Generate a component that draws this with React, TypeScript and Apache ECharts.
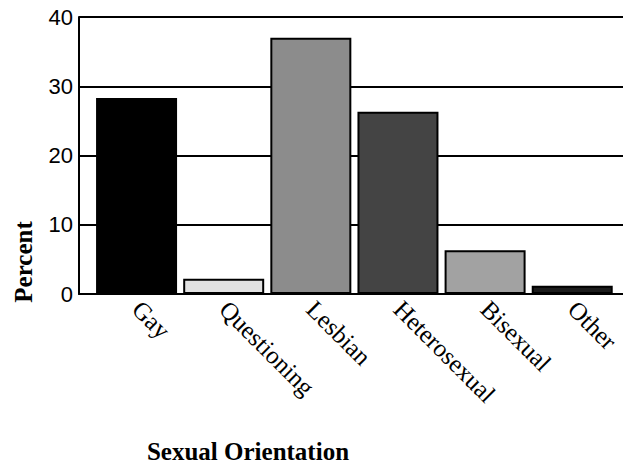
import React, { useEffect, useRef } from "react";
import * as echarts from "echarts";

const categories = ["Gay", "Questioning", "Lesbian", "Heterosexual", "Bisexual", "Other"];
const percents = [28.3, 2.2, 37.0, 26.3, 6.3, 1.2];
const barColors = ["#000000", "#e2e2e2", "#8c8c8c", "#444444", "#a2a2a2", "#1c1c1c"];
const yTicks = [0, 10, 20, 30, 40];

export default function App() {
  const ref = useRef<HTMLDivElement>(null);
  useEffect(() => {
    if (!ref.current) return;
    const chart = echarts.init(ref.current, undefined, { renderer: "svg" });
    chart.setOption({
      animation: false,
      backgroundColor: "#ffffff",
      grid: [
        { left: 79, right: 0, top: 17, bottom: 170 },
        { left: 93, right: 2, top: 17, bottom: 170 },
      ],
      xAxis: [
        {
          gridIndex: 0,
          type: "value",
          min: 0,
          max: 1,
          axisLine: { show: true, lineStyle: { color: "#000", width: 2 } },
          axisTick: { show: false },
          axisLabel: { show: false },
          splitLine: { show: false },
        },
        {
          gridIndex: 1,
          type: "category",
          data: categories,
          axisLine: { show: false },
          axisTick: { show: false },
          axisLabel: {
            rotate: -45,
            margin: 11,
            color: "#000",
            fontFamily: "Liberation Serif",
            fontSize: 25,
            interval: 0,
          },
        },
      ],
      yAxis: [
        {
          gridIndex: 0,
          type: "value",
          min: 0,
          max: 40,
          interval: 10,
          axisLine: { show: true, lineStyle: { color: "#000", width: 2 } },
          axisTick: { show: false },
          axisLabel: {
            color: "#000",
            fontFamily: "Liberation Sans",
            fontSize: 22,
            margin: 6,
            formatter: (v: number) => (yTicks.includes(v) ? String(v) : ""),
          },
          splitLine: { show: true, lineStyle: { color: "#000", width: 2 } },
        },
        {
          gridIndex: 1,
          type: "value",
          min: 0,
          max: 40,
          show: false,
          splitLine: { show: false },
        },
      ],
      series: [
        {
          type: "bar",
          xAxisIndex: 1,
          yAxisIndex: 1,
          barWidth: 81,
          data: percents.map((v, i) => ({
            value: v,
            itemStyle: { color: barColors[i], borderColor: "#000", borderWidth: 2 },
          })),
        },
      ],
      graphic: [
        {
          type: "text",
          x: 23,
          y: 262,
          rotation: Math.PI / 2,
          style: {
            text: "Percent",
            fill: "#000",
            font: "bold 25px 'Liberation Serif'",
            textAlign: "center",
            textVerticalAlign: "middle",
          },
        },
        {
          type: "text",
          x: 248,
          y: 451,
          style: {
            text: "Sexual Orientation",
            fill: "#000",
            font: "bold 25px 'Liberation Serif'",
            textAlign: "center",
            textVerticalAlign: "middle",
          },
        },
      ],
    });
    return () => chart.dispose();
  }, []);
  return (
    <div
      ref={ref}
      style={{ position: "fixed", left: 0, top: 0, width: 623, height: 464 }}
    />
  );
}
